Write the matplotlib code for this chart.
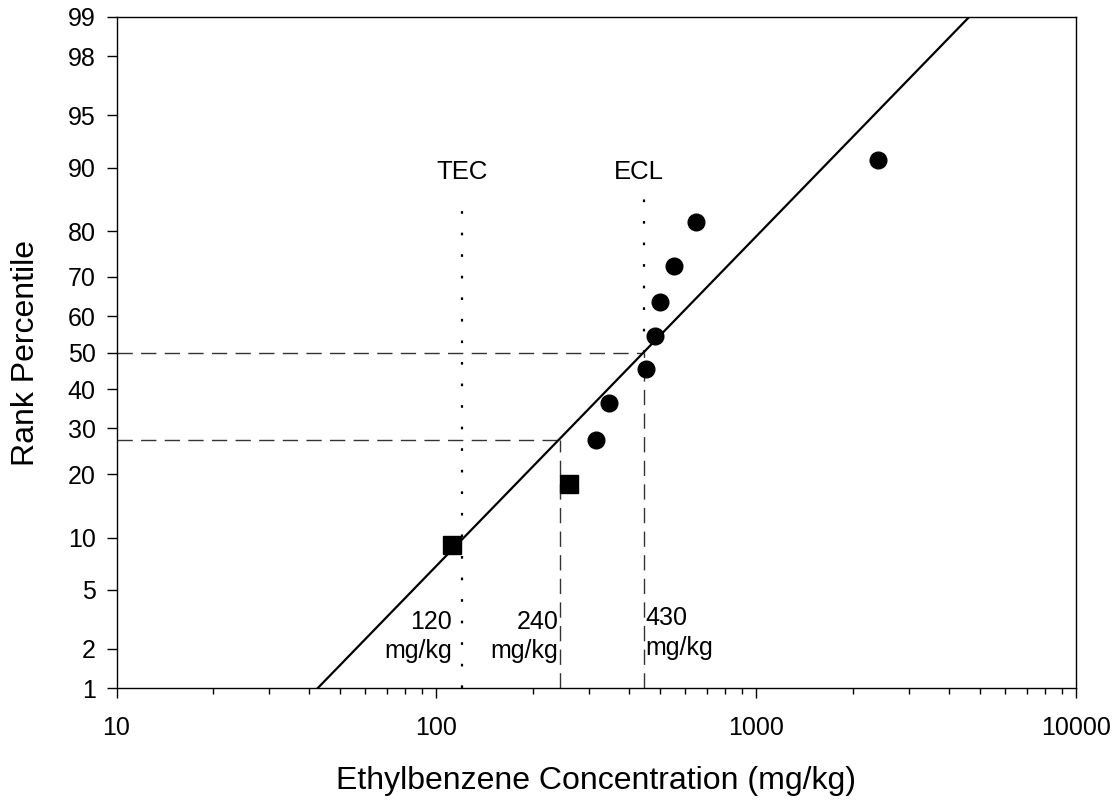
import numpy as np
import matplotlib
matplotlib.use("Agg")
import matplotlib.pyplot as plt
from statistics import NormalDist

plt.rcParams["font.family"] = ["Liberation Sans", "DejaVu Sans"]

# observed data (rank percentile = i / 11)
sq_conc = [112, 260]
sq_pct = [9.1, 18.2]
circ_conc = [316, 345, 450, 483, 501, 554, 649, 2406]
circ_pct = [27.3, 36.4, 45.5, 54.5, 63.6, 72.7, 81.8, 90.9]

# fitted line end points
fit_conc = [42.5, 4620]
fit_pct = [1, 99]

# reference levels
tec_conc = 120
ecl_conc = 444
p240_conc = 243
p240_pct = 27.3
median_pct = 50

y_ticks = [1, 2, 5, 10, 20, 30, 40, 50, 60, 70, 80, 90, 95, 98, 99]
x_ticks = [10, 100, 1000, 10000]

nd = NormalDist()


def _ppf(v):
    if not np.isfinite(v):
        return np.nan
    v = min(max(v, 1e-6), 100 - 1e-6)
    return nd.inv_cdf(v / 100.0)


def _cdf(v):
    if np.isnan(v):
        return np.nan
    return nd.cdf(v) * 100.0


probit = np.vectorize(_ppf, otypes=[float])
inv_probit = np.vectorize(_cdf, otypes=[float])


fig = plt.figure(figsize=(11.17, 8.01), dpi=100)
ax = fig.add_axes([0.1043, 0.1407, 0.8594, 0.8381])
ax.set_xscale("log")
ax.set_yscale("function", functions=(probit, inv_probit))
ax.set_xlim(10, 10000)
ax.set_ylim(1, 99)

dash = (0, (11, 6))
dot = (0, (1.2, 8.5))

# fit line
ax.plot(fit_conc, fit_pct, color="black", lw=1.6, zorder=3)

# dashed guides
ax.plot([10, ecl_conc], [median_pct, median_pct], color="#333333", lw=1, ls=dash)
ax.plot([ecl_conc, ecl_conc], [1, median_pct], color="#333333", lw=1, ls=dash)
ax.plot([10, p240_conc], [p240_pct, p240_pct], color="#333333", lw=1, ls=dash)
ax.plot([p240_conc, p240_conc], [1, p240_pct], color="#333333", lw=1, ls=dash)

# dotted TEC / ECL
ax.plot([tec_conc, tec_conc], [1, 86], color="black", lw=1.6, ls=dot)
ax.plot([ecl_conc, ecl_conc], [median_pct, 87.2], color="black", lw=1.6, ls=dot)

# data points
ax.plot(sq_conc, sq_pct, ls="none", marker="s", ms=13.5, color="black", zorder=4)
ax.plot(circ_conc, circ_pct, ls="none", marker="o", ms=12, color="black", zorder=4)

# labels
ax.text(tec_conc, 88.6, "TEC", ha="center", va="baseline", fontsize=18.5)
ax.text(ecl_conc * 0.965, 88.6, "ECL", ha="center", va="baseline", fontsize=18.5)
ax.annotate("120\nmg/kg", xy=(tec_conc, 3.75), xytext=(-7, 0), textcoords="offset points",
            ha="right", va="top", multialignment="right", fontsize=18, linespacing=1.3)
ax.annotate("240\nmg/kg", xy=(p240_conc, 3.75), xytext=(-1, 0), textcoords="offset points",
            ha="right", va="top", multialignment="right", fontsize=18, linespacing=1.3)
ax.annotate("430\nmg/kg", xy=(ecl_conc, 3.95), xytext=(1, 0), textcoords="offset points",
            ha="left", va="top", multialignment="left", fontsize=18, linespacing=1.3)

ax.set_yticks(y_ticks)
ax.set_yticklabels([str(v) for v in y_ticks])
ax.yaxis.set_minor_locator(matplotlib.ticker.NullLocator())
ax.set_xticks(x_ticks)
ax.set_xticklabels([str(v) for v in x_ticks])
ax.xaxis.set_minor_locator(matplotlib.ticker.LogLocator(base=10, subs=np.arange(2, 10)))
ax.xaxis.set_minor_formatter(matplotlib.ticker.NullFormatter())

ax.tick_params(axis="both", which="major", direction="out", length=7, width=1, labelsize=18)
ax.tick_params(axis="x", which="major", pad=13)
ax.tick_params(axis="y", which="major", pad=8)
ax.tick_params(axis="x", which="minor", direction="out", length=4, width=1)
for s in ax.spines.values():
    s.set_linewidth(1)

ax.set_xlabel("Ethylbenzene Concentration (mg/kg)", fontsize=23, labelpad=19)
ax.set_ylabel("Rank Percentile", fontsize=23, labelpad=19)

fig.savefig("out.png", dpi=100)
